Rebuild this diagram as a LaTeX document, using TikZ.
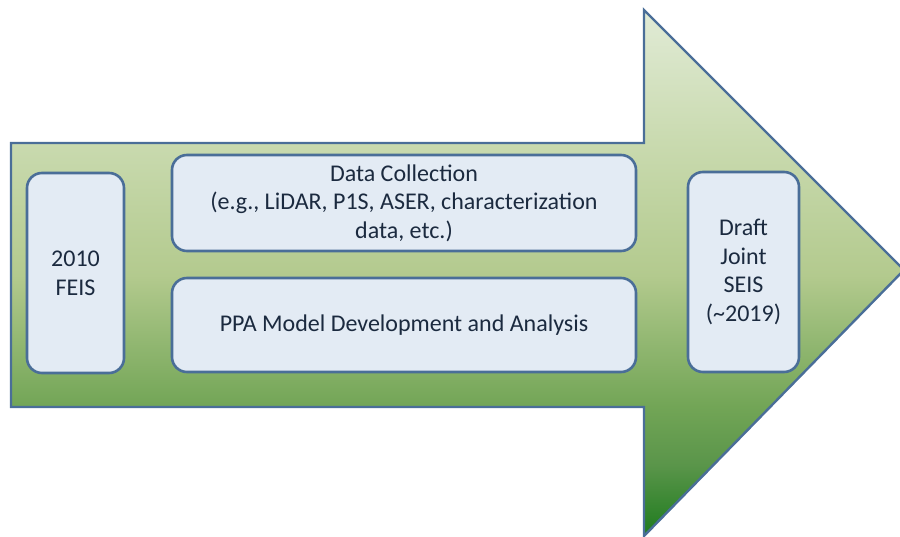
\documentclass[tikz,border=0pt]{standalone}
\usepackage{fontspec}
\setmainfont{Carlito}
\definecolor{gA}{HTML}{1E7B1E}
\definecolor{gB}{HTML}{5A954A}
\definecolor{gC}{HTML}{72A556}
\definecolor{gD}{HTML}{B3CA8E}
\definecolor{gE}{HTML}{C9DAAF}
\definecolor{gF}{HTML}{E1EBD6}
\definecolor{edge}{HTML}{4A6E98}
\definecolor{boxfill}{HTML}{E3EBF4}
\definecolor{txt}{HTML}{1B2A3F}
\pgfdeclareverticalshading{arrowgrad}{100bp}{color(0bp)=(gA); color(25bp)=(gA); color(31.75bp)=(gB); color(37.3bp)=(gC); color(49.8bp)=(gD); color(62.4bp)=(gE); color(75bp)=(gF); color(100bp)=(gF)}
\tikzset{
  stagebox/.style={draw=edge, line width=2.6pt, fill=boxfill, rounded corners=15pt,
    text=txt, align=center, inner sep=0pt, font=\fontsize{24}{28.6}\selectfont},
}
\begin{document}
\begin{tikzpicture}[x=1pt,y=-1pt]
\useasboundingbox (0,0) rectangle (900,537);
\clip (0,0) rectangle (900,537);
\path[shading=arrowgrad, draw=edge, line width=2.4pt, line join=miter]
  (11,143) -- (644,143) -- (644,10) -- (904,270) -- (644,536) -- (644,407) -- (11,407) -- cycle;
\node[stagebox, minimum width=97pt, minimum height=200pt] (feis) at (75.5,273) {2010\\FEIS};
\node[stagebox, minimum width=464pt, minimum height=96pt] (data) at (404,203) {Data Collection\\(e.g., LiDAR, P1S, ASER, characterization\\data, etc.)};
\node[stagebox, minimum width=464pt, minimum height=94pt] (ppa) at (404,325) {PPA Model Development and Analysis};
\node[stagebox, minimum width=111pt, minimum height=200pt] (seis) at (743.5,272) {Draft\\Joint\\SEIS\\(\textasciitilde2019)};
\end{tikzpicture}
\end{document}
